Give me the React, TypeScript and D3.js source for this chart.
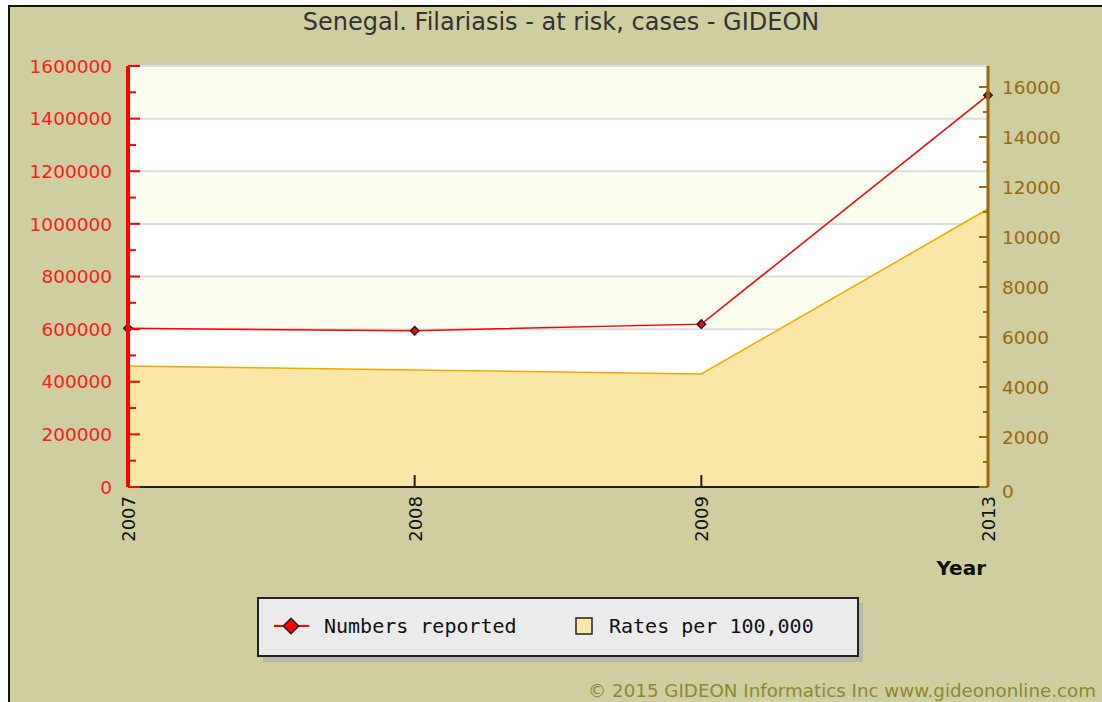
import React, { useEffect, useRef } from 'react';
import * as d3 from 'd3';

// chart data
const years = ['2007', '2008', '2009', '2013'];
const numbersReported = [603000, 594000, 619000, 1489000];
const ratesPer100k = [4840, 4680, 4520, 11120];
const leftTicks = [0, 200000, 400000, 600000, 800000, 1000000, 1200000, 1400000, 1600000];
const rightTicks = [0, 2000, 4000, 6000, 8000, 10000, 12000, 14000, 16000];

const title = 'Senegal. Filariasis - at risk, cases - GIDEON';
const legendLabels = ['Numbers reported', 'Rates per 100,000'];
const copyright = '\u00a9 2015 GIDEON Informatics Inc www.gideononline.com';

const App = () => {
  const svgRef = useRef<SVGSVGElement>(null);

  useEffect(() => {
    const svg = d3.select(svgRef.current);
    svg.selectAll('*').remove();

    const width = 1102;
    const height = 702;
    const margin = { top: 66, right: 114, bottom: 215, left: 128 };
    const plotW = width - margin.left - margin.right;
    const plotH = height - margin.top - margin.bottom;
    const font = 'DejaVu Sans, Verdana, sans-serif';

    // outer frame
    svg.append('rect').attr('x', 0).attr('y', 0).attr('width', width).attr('height', height).attr('fill', '#fff');
    svg
      .append('rect')
      .attr('x', 9)
      .attr('y', 6)
      .attr('width', width + 20)
      .attr('height', height + 20)
      .attr('fill', '#cfcea0')
      .attr('stroke', '#111')
      .attr('stroke-width', 2);

    // title
    svg
      .append('text')
      .attr('x', 561)
      .attr('y', 30)
      .attr('text-anchor', 'middle')
      .attr('font-family', font)
      .attr('font-size', 24)
      .attr('fill', '#333')
      .text(title);

    const xScale = d3.scalePoint().domain(years).range([0, plotW]);
    const yLeft = d3.scaleLinear().domain([0, 1600000]).range([plotH, 0]);
    const yRight = d3.scaleLinear().domain([0, 16840]).range([plotH, 0]);

    const g = svg.append('g').attr('transform', `translate(${margin.left},${margin.top})`);

    // alternating bands
    for (let i = 0; i < leftTicks.length - 1; i++) {
      g.append('rect')
        .attr('x', 0)
        .attr('y', yLeft(leftTicks[i + 1]))
        .attr('width', plotW)
        .attr('height', yLeft(leftTicks[i]) - yLeft(leftTicks[i + 1]))
        .attr('fill', i % 2 === 1 ? '#fefef0' : '#ffffff');
    }

    // grid lines
    g.selectAll('.grid')
      .data(leftTicks.slice(1))
      .enter()
      .append('line')
      .attr('x1', 0)
      .attr('x2', plotW)
      .attr('y1', (d) => yLeft(d))
      .attr('y2', (d) => yLeft(d))
      .attr('stroke', '#dddddd')
      .attr('stroke-width', 2);

    // rates area
    const rateData = years.map((y, i) => ({ year: y, v: ratesPer100k[i] }));
    const area = d3
      .area<{ year: string; v: number }>()
      .x((d) => xScale(d.year)!)
      .y0(plotH)
      .y1((d) => yRight(d.v));
    g.append('path').datum(rateData).attr('d', area).attr('fill', '#fae6a6');
    const rateLine = d3
      .line<{ year: string; v: number }>()
      .x((d) => xScale(d.year)!)
      .y((d) => yRight(d.v));
    g.append('path').datum(rateData).attr('d', rateLine).attr('fill', 'none').attr('stroke', '#f2a900').attr('stroke-width', 1.5);

    // numbers line
    const numData = years.map((y, i) => ({ year: y, v: numbersReported[i] }));
    const numLine = d3
      .line<{ year: string; v: number }>()
      .x((d) => xScale(d.year)!)
      .y((d) => yLeft(d.v));
    g.append('path').datum(numData).attr('d', numLine).attr('fill', 'none').attr('stroke', '#ff0000').attr('stroke-width', 1.5);

    // small diamonds (rotated squares)
    g.selectAll('.marker')
      .data(numData)
      .enter()
      .append('rect')
      .attr('x', -3)
      .attr('y', -3)
      .attr('width', 6)
      .attr('height', 6)
      .attr('transform', (d) => `translate(${xScale(d.year)},${yLeft(d.v)}) rotate(45)`)
      .attr('fill', '#ff0000')
      .attr('stroke', '#222')
      .attr('stroke-width', 1.5);

    // x axis
    g.append('line').attr('x1', 0).attr('x2', plotW).attr('y1', plotH).attr('y2', plotH).attr('stroke', '#222').attr('stroke-width', 2);
    g.selectAll('.xtick')
      .data(years)
      .enter()
      .append('line')
      .attr('x1', (d) => xScale(d)!)
      .attr('x2', (d) => xScale(d)!)
      .attr('y1', plotH)
      .attr('y2', plotH - 12)
      .attr('stroke', '#222')
      .attr('stroke-width', 2);
    g.selectAll('.xlabel')
      .data(years)
      .enter()
      .append('text')
      .attr('transform', (d) => `translate(${xScale(d)! + 7},${plotH + 9}) rotate(-90)`)
      .attr('text-anchor', 'end')
      .attr('font-family', font)
      .attr('font-size', 18)
      .attr('fill', '#111')
      .text((d) => d);

    svg
      .append('text')
      .attr('x', 986)
      .attr('y', 575)
      .attr('text-anchor', 'end')
      .attr('font-family', font)
      .attr('font-weight', 'bold')
      .attr('font-size', 20)
      .attr('fill', '#111')
      .text('Year');

    // left axis (red)
    const leftMinor = d3.range(0, 1600001, 100000);
    g.selectAll('.lminor')
      .data(leftMinor)
      .enter()
      .append('line')
      .attr('x1', 0)
      .attr('x2', (d) => (d % 200000 === 0 ? 12 : 8))
      .attr('y1', (d) => yLeft(d))
      .attr('y2', (d) => yLeft(d))
      .attr('stroke', '#ff0000')
      .attr('stroke-width', 2);
    g.append('line').attr('x1', 0).attr('x2', 0).attr('y1', 0).attr('y2', plotH).attr('stroke', '#ff0000').attr('stroke-width', 4);
    g.selectAll('.llabel')
      .data(leftTicks)
      .enter()
      .append('text')
      .attr('x', -16)
      .attr('y', (d) => yLeft(d))
      .attr('dy', '0.36em')
      .attr('text-anchor', 'end')
      .attr('font-family', font)
      .attr('font-size', 18.5)
      .attr('fill', '#ff1a1a')
      .text((d) => d3.format('d')(d));

    // right axis (brown)
    const rightMinor = d3.range(0, 16001, 1000);
    g.selectAll('.rminor')
      .data(rightMinor)
      .enter()
      .append('line')
      .attr('x1', plotW)
      .attr('x2', (d) => plotW - (d % 2000 === 0 ? 9 : 5))
      .attr('y1', (d) => yRight(d))
      .attr('y2', (d) => yRight(d))
      .attr('stroke', '#99690f')
      .attr('stroke-width', 2);
    g.append('line').attr('x1', plotW).attr('x2', plotW).attr('y1', 0).attr('y2', plotH).attr('stroke', '#99690f').attr('stroke-width', 3);
    g.selectAll('.rlabel')
      .data(rightTicks)
      .enter()
      .append('text')
      .attr('x', plotW + 14)
      .attr('y', (d) => yRight(d))
      .attr('dy', (d) => (d === 0 ? '0.6em' : '0.36em'))
      .attr('font-family', font)
      .attr('font-size', 18.5)
      .attr('fill', '#99690f')
      .text((d) => d3.format('d')(d));

    // legend
    const legend = svg.append('g').attr('transform', 'translate(258,598)');
    legend.append('rect').attr('x', 5).attr('y', 5).attr('width', 600).attr('height', 59).attr('fill', '#b8b8a8');
    legend
      .append('rect')
      .attr('x', 0)
      .attr('y', 0)
      .attr('width', 600)
      .attr('height', 58)
      .attr('fill', '#ebebeb')
      .attr('stroke', '#222')
      .attr('stroke-width', 2);
    legend.append('line').attr('x1', 16).attr('x2', 51).attr('y1', 28).attr('y2', 28).attr('stroke', '#ff0000').attr('stroke-width', 2);
    legend
      .append('rect')
      .attr('x', -5.5)
      .attr('y', -5.5)
      .attr('width', 11)
      .attr('height', 11)
      .attr('transform', 'translate(33,28) rotate(45)')
      .attr('fill', '#ff0000')
      .attr('stroke', '#222')
      .attr('stroke-width', 1.5);
    legend
      .append('text')
      .attr('x', 66)
      .attr('y', 35)
      .attr('font-family', 'DejaVu Sans Mono, monospace')
      .attr('font-size', 20)
      .attr('fill', '#111')
      .text(legendLabels[0]);
    legend
      .append('rect')
      .attr('x', 318)
      .attr('y', 20)
      .attr('width', 16)
      .attr('height', 16)
      .attr('fill', '#fae6a6')
      .attr('stroke', '#222')
      .attr('stroke-width', 1.5);
    legend
      .append('text')
      .attr('x', 351)
      .attr('y', 35)
      .attr('font-family', 'DejaVu Sans Mono, monospace')
      .attr('font-size', 20)
      .attr('fill', '#111')
      .text(legendLabels[1]);

    // copyright
    svg
      .append('text')
      .attr('x', 588)
      .attr('y', 697)
      .attr('font-family', font)
      .attr('font-size', 18)
      .attr('textLength', 508)
      .attr('lengthAdjust', 'spacingAndGlyphs')
      .attr('fill', '#8a8a30')
      .text(copyright);
  }, []);

  return (
    <svg
      ref={svgRef}
      width={1102}
      height={702}
      style={{ position: 'absolute', left: 0, top: 0, display: 'block' }}
    />
  );
};

export default App;
